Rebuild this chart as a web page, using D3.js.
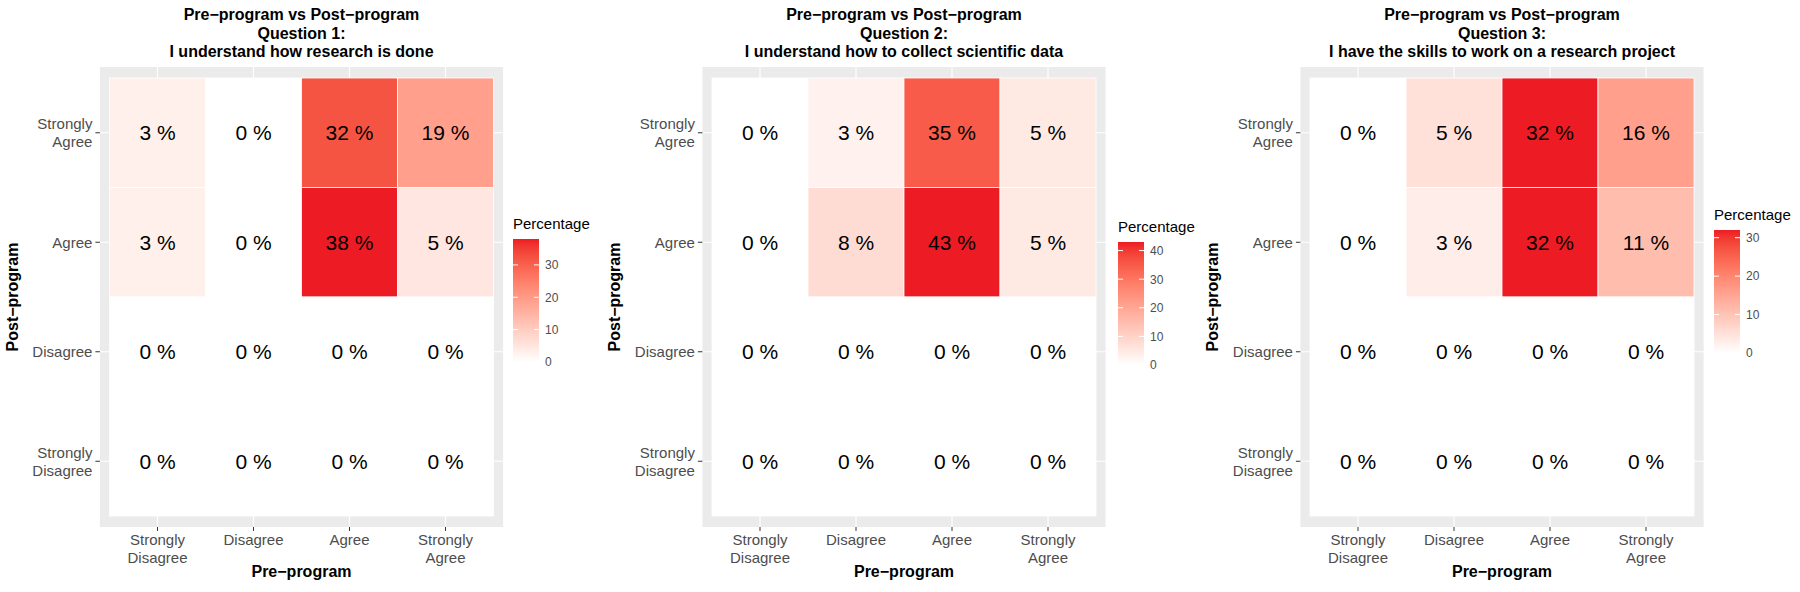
<!DOCTYPE html>
<html><head><meta charset="utf-8">
<script src="https://cdn.jsdelivr.net/npm/d3@7/dist/d3.min.js"></script>
<style>
body{margin:0;background:#fff}
svg{display:block}
text{font-family:"Liberation Sans",Arial,Helvetica,sans-serif}
</style>
</head><body>
<svg id="chart" width="1800" height="592"></svg>
<script>
// ---------- DATA ----------
const preCategories  = ["Strongly Disagree", "Disagree", "Agree", "Strongly Agree"];
const postCategories = ["Strongly Agree", "Agree", "Disagree", "Strongly Disagree"];
const titleLine1 = "Pre\u2212program vs Post\u2212program";
const questionLabels = ["Question 1:", "Question 2:", "Question 3:"];
const questionTexts = [
  "I understand how research is done",
  "I understand how to collect scientific data",
  "I have the skills to work on a research project"
];
// rows follow postCategories (top to bottom), columns follow preCategories
const q1Values = [[3, 0, 32, 19], [3, 0, 38, 5], [0, 0, 0, 0], [0, 0, 0, 0]];
const q2Values = [[0, 3, 35, 5], [0, 8, 43, 5], [0, 0, 0, 0], [0, 0, 0, 0]];
const q3Values = [[0, 5, 32, 16], [0, 3, 32, 11], [0, 0, 0, 0], [0, 0, 0, 0]];
const legendTicks1 = [0, 10, 20, 30];
const legendTicks2 = [0, 10, 20, 30, 40];
const legendTicks3 = [0, 10, 20, 30];
const xAxisTitle = "Pre\u2212program";
const yAxisTitle = "Post\u2212program";
const legendTitle = "Percentage";

// ---------- LAYOUT ----------
const layout = [
  {values: q1Values, ticks: legendTicks1, tx: [109.5, 493.5], legX: 513, legBottom: 362},
  {values: q2Values, ticks: legendTicks2, tx: [712, 1096],   legX: 1118, legBottom: 365},
  {values: q3Values, ticks: legendTicks3, tx: [1310, 1694],  legX: 1714, legBottom: 353}
];
const tileY = [78, 516];
const barW = 26, barH = 123;
const highColor = "#ED1C24";
const axisGrey = "#4D4D4D";

const svg = d3.select("#chart");
svg.append("rect").attr("width", 1800).attr("height", 592).attr("fill", "#fff");
const defs = svg.append("defs");

layout.forEach((p, pi) => {
  const g = svg.append("g");
  const x = d3.scaleBand().domain(preCategories).range(p.tx);
  const y = d3.scaleBand().domain(postCategories).range(tileY);
  const ex = x.bandwidth() * 0.1, ey = y.bandwidth() * 0.1;
  const pL = p.tx[0] - ex, pR = p.tx[1] + ex, pT = tileY[0] - ey, pB = tileY[1] + ey;
  const cx = (pL + pR) / 2;
  const maxV = d3.max(p.values.flat());
  const color = d3.scaleLinear().domain([0, maxV]).range(["#ffffff", highColor]).interpolate(d3.interpolateLab);

  // panel background
  g.append("rect").attr("x", pL).attr("y", pT).attr("width", pR - pL).attr("height", pB - pT).attr("fill", "#EBEBEB");
  // grid lines
  g.selectAll("line.gx").data(preCategories).join("line")
    .attr("x1", d => x(d) + x.bandwidth() / 2).attr("x2", d => x(d) + x.bandwidth() / 2)
    .attr("y1", pT).attr("y2", pB).attr("stroke", "#fff").attr("stroke-width", 1.1);
  g.selectAll("line.gy").data(postCategories).join("line")
    .attr("y1", d => y(d) + y.bandwidth() / 2).attr("y2", d => y(d) + y.bandwidth() / 2)
    .attr("x1", pL).attr("x2", pR).attr("stroke", "#fff").attr("stroke-width", 1.1);

  // tiles
  const cells = [];
  postCategories.forEach((post, r) => preCategories.forEach((pre, c) => cells.push({pre, post, v: p.values[r][c]})));
  g.selectAll("rect.tile").data(cells).join("rect")
    .attr("x", d => x(d.pre)).attr("y", d => y(d.post))
    .attr("width", x.bandwidth()).attr("height", y.bandwidth())
    .attr("fill", d => color(d.v)).attr("stroke", "#fff").attr("stroke-width", 0.8);
  g.selectAll("text.cell").data(cells).join("text")
    .attr("x", d => x(d.pre) + x.bandwidth() / 2)
    .attr("y", d => y(d.post) + y.bandwidth() / 2 + 7.5)
    .attr("text-anchor", "middle").attr("font-size", 21).attr("fill", "#000")
    .text(d => d.v + " %");

  // axes
  const splitLabel = s => s.startsWith("Strongly ") ? ["Strongly", s.slice(9)] : [s];
  const yAx = g.append("g").attr("transform", `translate(${pL},0)`)
    .call(d3.axisLeft(y).tickSize(4.5).tickPadding(3));
  yAx.select(".domain").remove();
  yAx.selectAll(".tick line").attr("stroke", "#333").attr("stroke-width", 1);
  yAx.selectAll(".tick text").each(function(d) {
    const t = d3.select(this); const lines = splitLabel(d);
    t.text(null).attr("dy", null).attr("font-size", 15).attr("fill", axisGrey).attr("font-family", null);
    lines.forEach((l, i) => t.append("tspan").attr("x", -7.5)
      .attr("y", (i - (lines.length - 1) / 2) * 18 + 5.4).text(l));
  });
  const xAx = g.append("g").attr("transform", `translate(0,${pB})`)
    .call(d3.axisBottom(x).tickSize(4).tickPadding(3));
  xAx.select(".domain").remove();
  xAx.selectAll(".tick line").attr("stroke", "#333").attr("stroke-width", 1);
  xAx.selectAll(".tick text").each(function(d) {
    const t = d3.select(this); const lines = splitLabel(d);
    t.text(null).attr("dy", null).attr("font-size", 15).attr("fill", axisGrey).attr("font-family", null);
    lines.forEach((l, i) => t.append("tspan").attr("x", 0).attr("y", 18 + i * 18).text(l));
  });

  // axis titles
  g.append("text").attr("x", cx).attr("y", 577).attr("text-anchor", "middle")
    .attr("font-size", 16).attr("font-weight", "bold").text(xAxisTitle);
  g.append("text").attr("transform", `translate(${pL - 82},${(pT + pB) / 2}) rotate(-90)`)
    .attr("text-anchor", "middle").attr("font-size", 16).attr("font-weight", "bold").text(yAxisTitle);

  // title
  const tl = [titleLine1, questionLabels[pi], questionTexts[pi]];
  g.selectAll("text.title").data(tl).join("text")
    .attr("x", cx).attr("y", (d, i) => 20 + i * 18.7).attr("text-anchor", "middle")
    .attr("font-size", 16).attr("font-weight", "bold").attr("fill", "#000").text(d => d);

  // legend
  const ls = d3.scaleLinear().domain([0, maxV]).range([p.legBottom, p.legBottom - barH]);
  const gid = "grad" + pi;
  const grad = defs.append("linearGradient").attr("id", gid).attr("x1", 0).attr("y1", 1).attr("x2", 0).attr("y2", 0);
  d3.range(0, 1.0001, 0.05).forEach(f => grad.append("stop").attr("offset", f).attr("stop-color", color(f * maxV)));
  const lg = g.append("g");
  lg.append("text").attr("x", p.legX).attr("y", ls(maxV) - 10.5).attr("font-size", 15).attr("fill", "#000").text(legendTitle);
  lg.append("rect").attr("x", p.legX).attr("y", ls(maxV)).attr("width", barW).attr("height", ls(0) - ls(maxV)).attr("fill", `url(#${gid})`);
  p.ticks.forEach(t => {
    lg.append("line").attr("x1", p.legX).attr("x2", p.legX + 5).attr("y1", ls(t)).attr("y2", ls(t)).attr("stroke", "#fff").attr("stroke-width", 1);
    lg.append("line").attr("x1", p.legX + barW - 5).attr("x2", p.legX + barW).attr("y1", ls(t)).attr("y2", ls(t)).attr("stroke", "#fff").attr("stroke-width", 1);
  });
  const la = lg.append("g").attr("transform", `translate(${p.legX + barW},0)`)
    .call(d3.axisRight(ls).tickValues(p.ticks).tickSize(0).tickPadding(6));
  la.select(".domain").remove();
  la.selectAll(".tick text").attr("font-size", 12).attr("fill", axisGrey).attr("font-family", null);
});
</script>
</body></html>
